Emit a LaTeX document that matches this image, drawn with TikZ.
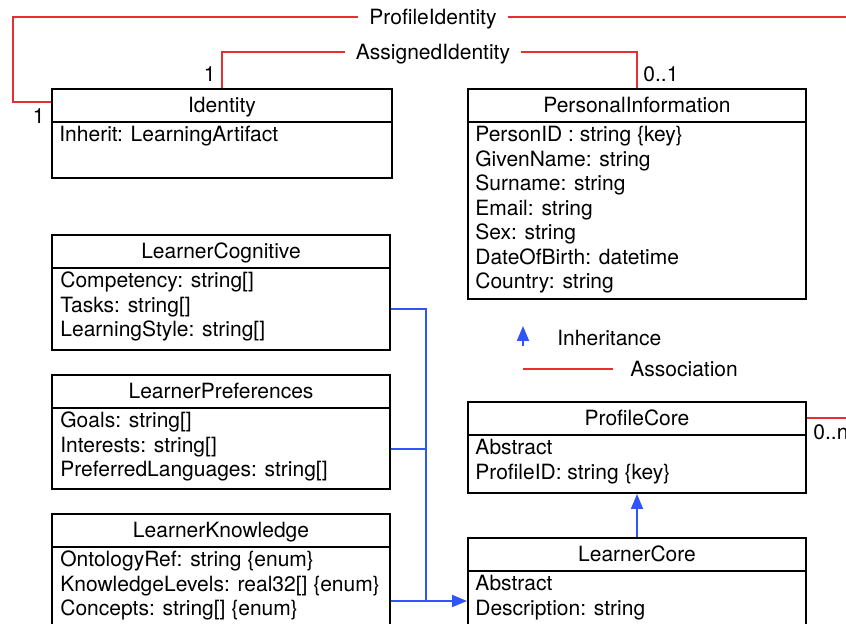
\documentclass[tikz,border=0pt]{standalone}
\usepackage{fontspec}
\newfontfamily\umlfont{TeX Gyre Heros}
\usetikzlibrary{calc,arrows.meta}

\definecolor{assocred}{RGB}{226,48,52}
\definecolor{inhblue}{RGB}{48,84,246}

\tikzset{
  classbox/.style={draw, line width=1pt, anchor=north west, inner sep=0pt, minimum width=169pt},
  umltext/.style={font=\umlfont\fontsize{10.5}{12.25}\selectfont, inner sep=0pt},
  classname/.style={umltext, anchor=base},
  attr/.style={umltext, anchor=base west},
  mult/.style={umltext, inner sep=3pt},
  assoclabel/.style={umltext, text height=7.6pt, text depth=0pt, inner xsep=5.5pt},
  assoc/.style={draw=assocred, line width=1pt},
  inhline/.style={draw=inhblue, line width=0.9pt},
  inharrow/.style={inhline, -{Triangle[length=7.5pt,width=6pt]}},
}

\begin{document}
\begin{tikzpicture}[x=0.5pt, y=-0.5pt]
    \useasboundingbox (0,0) rectangle (846,624);
    \clip (0,0) rectangle (846,624);

    % class boxes
    \node[classbox, minimum width=170pt, minimum height=44.5pt] (identity) at (51,88) {};
    \node[classbox, minimum height=105pt] (pinfo) at (467,88) {};
    \node[classbox, minimum height=57.5pt] (lcog) at (51,234) {};
    \node[classbox, minimum height=57pt] (lpref) at (51,374) {};
    \node[classbox, minimum height=87pt] (lk) at (51,513) {};
    \node[classbox, minimum height=45.5pt] (pcore) at (467,401) {};
    \node[classbox, minimum height=63pt] (lcore) at (467,537) {};

    % header lines and class names
    \foreach \cls/\clsname in {identity/Identity, pinfo/PersonalInformation,
        lcog/LearnerCognitive, lpref/LearnerPreferences, lk/LearnerKnowledge,
        pcore/ProfileCore, lcore/LearnerCore} {
        \draw[line width=1pt] ($(\cls.north west)+(0,34)$) -- ($(\cls.north east)+(0,34)$);
        \node[classname] (\cls-name) at ($(\cls.north)+(0,24.5)$) {\clsname};
    }

    % attributes
    \foreach \attrtext [count=\i from 0] in {Inherit: LearningArtifact}
        \node[attr] (identity-\i) at ($(identity.north west)+(8,54+24.5*\i)$) {\attrtext};
    \foreach \attrtext [count=\i from 0] in {PersonID : string \{key\}, GivenName: string,
        Surname: string, Email: string, Sex: string, DateOfBirth: datetime, Country: string}
        \node[attr] (pinfo-\i) at ($(pinfo.north west)+(8,54+24.5*\i)$) {\attrtext};
    \foreach \attrtext [count=\i from 0] in {Competency: string[], Tasks: string[], LearningStyle: string[]}
        \node[attr] (lcog-\i) at ($(lcog.north west)+(9,54+24.5*\i)$) {\attrtext};
    \foreach \attrtext [count=\i from 0] in {Goals: string[], Interests: string[], PreferredLanguages: string[]}
        \node[attr] (lpref-\i) at ($(lpref.north west)+(9,54+24.5*\i)$) {\attrtext};
    \foreach \attrtext [count=\i from 0] in {OntologyRef: string \{enum\},
        KnowledgeLevels: real32[] \{enum\}, Concepts: string[] \{enum\}}
        \node[attr] (lk-\i) at ($(lk.north west)+(9,54+24.5*\i)$) {\attrtext};
    \foreach \attrtext [count=\i from 0] in {Abstract, ProfileID: string \{key\}}
        \node[attr] (pcore-\i) at ($(pcore.north west)+(8,54+24.5*\i)$) {\attrtext};
    \foreach \attrtext [count=\i from 0] in {Abstract, Description: string}
        \node[attr] (lcore-\i) at ($(lcore.north west)+(8,54+24.5*\i)$) {\attrtext};

    % associations
    \node[assoclabel] (pid) at (433,17) {ProfileIdentity};
    \node[assoclabel] (aid) at (433,52) {AssignedIdentity};
    \coordinate (leftrail) at (13,17);
    \coordinate (rightrail) at (870,17);

    \draw[assoc] ($(identity.north west)+(0,14)$) -| (leftrail) -- (pid.west);
    \draw[assoc] (pid.east) -- (rightrail) |- ($(pcore.north east)+(0,17)$);
    \draw[assoc] (identity.north) |- (aid.west);
    \draw[assoc] (aid.east) -| (pinfo.north);

    \node[mult, anchor=south east] (m-aid-id) at (identity.north) {1};
    \node[mult, anchor=south west] (m-aid-pi) at (pinfo.north) {0..1};
    \node[mult, anchor=north east] (m-pid-id) at ($(identity.north west)+(0,14)$) {1};
    \node[mult, anchor=north west] (m-pid-pc) at ($(pcore.north east)+(0,17)$) {0..n};

    % inheritance
    \coordinate (bus) at ($(lk.east)!0.46!(lcore.west)$);
    \draw[inhline] ($(lcog.north east)+(0,75)$) -| (bus);
    \draw[inhline] ($(lpref.north east)+(0,75)$) -| (bus);
    \draw[inharrow] (lk.east) -- (lcore.west);
    \draw[inharrow] (lcore.north) -- (pcore.south);

    % legend
    \coordinate (inh-from) at (523,346);
    \coordinate (inh-to) at (523,326);
    \draw[inharrow] (inh-from) -- (inh-to);
    \node[attr] (inh-text) at (557,345.5) {Inheritance};
    \coordinate (assoc-from) at (523,369);
    \coordinate (assoc-to) at (613,369);
    \draw[assoc] (assoc-from) -- (assoc-to);
    \node[attr] (assoc-text) at (630,377) {Association};
\end{tikzpicture}
\end{document}
